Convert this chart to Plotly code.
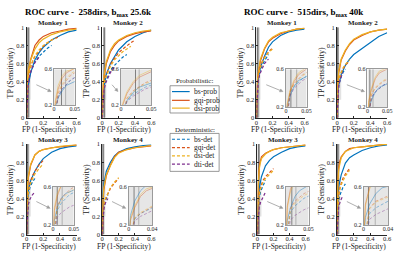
import math
import plotly.graph_objects as go

# ---------------- data ----------------
FP_PROB = [0, 0.003, 0.01, 0.02, 0.03, 0.05, 0.1, 0.15, 0.2, 0.3, 0.4, 0.5, 0.6]
FP_DET = [0, 0.01, 0.02, 0.04, 0.07, 0.1, 0.15, 0.2, 0.25, 0.3, 0.35, 0.4]

# 258 dirs, bmax 25.6k
BS_PROB_258_M1 = [0, 0.18, 0.28, 0.36, 0.42, 0.5, 0.64, 0.72, 0.78, 0.86, 0.91, 0.95, 0.97]
GQI_PROB_258_M1 = [0, 0.22, 0.38, 0.5, 0.56, 0.65, 0.8, 0.86, 0.9, 0.94, 0.96, 0.98, 0.99]
DSI_PROB_258_M1 = [0, 0.25, 0.42, 0.53, 0.58, 0.64, 0.76, 0.83, 0.87, 0.92, 0.95, 0.97, 0.98]
BS_DET_258_M1 = [0, 0.3, 0.38, 0.48, 0.56, 0.62, 0.68, 0.73, 0.77, 0.8]
GQI_DET_258_M1 = [0, 0.33, 0.42, 0.53, 0.62, 0.68, 0.74, 0.79, 0.83, 0.86, 0.88, 0.9]
DSI_DET_258_M1 = [0, 0.35, 0.44, 0.55, 0.63, 0.69, 0.75, 0.8, 0.83, 0.86, 0.88]
DTI_DET_258_M1 = [0, 0.3, 0.38, 0.48, 0.56, 0.61, 0.67]

BS_PROB_258_M2 = [0, 0.15, 0.25, 0.34, 0.4, 0.48, 0.6, 0.68, 0.75, 0.84, 0.9, 0.94, 0.97]
GQI_PROB_258_M2 = [0, 0.2, 0.33, 0.44, 0.51, 0.6, 0.73, 0.8, 0.85, 0.9, 0.93, 0.95, 0.96]
DSI_PROB_258_M2 = [0, 0.22, 0.35, 0.46, 0.53, 0.62, 0.75, 0.82, 0.86, 0.91, 0.94, 0.96, 0.97]
BS_DET_258_M2 = [0, 0.25, 0.32, 0.4, 0.47, 0.52, 0.58, 0.63, 0.67, 0.7]
GQI_DET_258_M2 = [0, 0.28, 0.36, 0.45, 0.53, 0.59, 0.66, 0.72, 0.76, 0.8, 0.83, 0.86]
DSI_DET_258_M2 = [0, 0.27, 0.35, 0.44, 0.51, 0.57, 0.64, 0.69, 0.73, 0.76, 0.79]
DTI_DET_258_M2 = [0, 0.24, 0.3, 0.38, 0.45, 0.5, 0.56]

BS_PROB_258_M3 = [0, 0.25, 0.38, 0.48, 0.53, 0.6, 0.7, 0.78, 0.84, 0.91, 0.95, 0.97, 0.98]
GQI_PROB_258_M3 = [0, 0.35, 0.5, 0.62, 0.68, 0.77, 0.88, 0.92, 0.94, 0.96, 0.97, 0.98, 0.99]
DSI_PROB_258_M3 = [0, 0.38, 0.53, 0.64, 0.7, 0.78, 0.88, 0.92, 0.94, 0.96, 0.975, 0.985, 0.99]
BS_DET_258_M3 = [0, 0.35, 0.43, 0.52, 0.58, 0.62]
GQI_DET_258_M3 = [0, 0.4, 0.48, 0.57, 0.65, 0.7, 0.77, 0.82]
DSI_DET_258_M3 = [0, 0.38, 0.46, 0.55, 0.62, 0.67, 0.73, 0.78]
DTI_DET_258_M3 = [0, 0.28, 0.33, 0.39, 0.44, 0.47]

BS_PROB_258_M4 = [0, 0.3, 0.45, 0.56, 0.62, 0.7, 0.8, 0.87, 0.91, 0.95, 0.97, 0.985, 0.99]
GQI_PROB_258_M4 = [0, 0.25, 0.38, 0.5, 0.56, 0.65, 0.77, 0.86, 0.91, 0.94, 0.96, 0.97, 0.98]
DSI_PROB_258_M4 = [0, 0.27, 0.4, 0.52, 0.58, 0.66, 0.76, 0.85, 0.9, 0.94, 0.96, 0.975, 0.985]
BS_DET_258_M4 = [0, 0.26, 0.32, 0.38, 0.44]
GQI_DET_258_M4 = [0, 0.27, 0.32, 0.39, 0.46, 0.51, 0.57, 0.62]
DSI_DET_258_M4 = [0, 0.28, 0.33, 0.4, 0.47, 0.52, 0.58, 0.63]
DTI_DET_258_M4 = [0, 0.24, 0.29, 0.35, 0.4]

# 515 dirs, bmax 40k
BS_PROB_515_M1 = [0, 0.2, 0.32, 0.42, 0.48, 0.56, 0.68, 0.78, 0.84, 0.91, 0.95, 0.97, 0.98]
GQI_PROB_515_M1 = [0, 0.22, 0.36, 0.47, 0.54, 0.63, 0.76, 0.84, 0.88, 0.93, 0.96, 0.98, 0.99]
DSI_PROB_515_M1 = [0, 0.24, 0.38, 0.49, 0.56, 0.65, 0.77, 0.85, 0.89, 0.94, 0.96, 0.98, 0.99]
BS_DET_515_M1 = [0, 0.35, 0.42, 0.5, 0.58, 0.63, 0.7]
GQI_DET_515_M1 = [0, 0.37, 0.45, 0.54, 0.62, 0.67, 0.73, 0.77]
DSI_DET_515_M1 = [0, 0.36, 0.44, 0.53, 0.61, 0.66, 0.72, 0.76]
DTI_DET_515_M1 = [0, 0.32, 0.4, 0.48, 0.55, 0.6, 0.65]

BS_PROB_515_M2 = [0, 0.18, 0.27, 0.36, 0.41, 0.48, 0.58, 0.65, 0.7, 0.77, 0.84, 0.9, 0.94]
GQI_PROB_515_M2 = [0, 0.25, 0.38, 0.5, 0.56, 0.64, 0.74, 0.81, 0.86, 0.91, 0.95, 0.97, 0.98]
DSI_PROB_515_M2 = [0, 0.27, 0.4, 0.52, 0.58, 0.65, 0.75, 0.82, 0.87, 0.92, 0.95, 0.97, 0.98]
BS_DET_515_M2 = [0, 0.3, 0.36, 0.43, 0.5, 0.54]
GQI_DET_515_M2 = [0, 0.33, 0.4, 0.47, 0.54, 0.58, 0.63]
DSI_DET_515_M2 = [0, 0.34, 0.41, 0.48, 0.55, 0.59, 0.64]
DTI_DET_515_M2 = [0, 0.3, 0.36, 0.43, 0.5]

BS_PROB_515_M3 = [0, 0.25, 0.38, 0.5, 0.56, 0.64, 0.76, 0.82, 0.86, 0.91, 0.95, 0.97, 0.98]
GQI_PROB_515_M3 = [0, 0.4, 0.58, 0.72, 0.79, 0.86, 0.9, 0.92, 0.94, 0.96, 0.97, 0.98, 0.99]
DSI_PROB_515_M3 = [0, 0.38, 0.55, 0.7, 0.77, 0.84, 0.89, 0.92, 0.94, 0.96, 0.97, 0.98, 0.99]
BS_DET_515_M3 = [0, 0.33, 0.4, 0.48, 0.55, 0.6]
GQI_DET_515_M3 = [0, 0.38, 0.45, 0.53, 0.6, 0.64, 0.69, 0.73]
DSI_DET_515_M3 = [0, 0.36, 0.43, 0.51, 0.58, 0.62, 0.67, 0.71]
DTI_DET_515_M3 = [0, 0.25, 0.3, 0.36, 0.42, 0.47]

BS_PROB_515_M4 = [0, 0.28, 0.42, 0.53, 0.59, 0.66, 0.79, 0.85, 0.88, 0.93, 0.96, 0.98, 0.99]
GQI_PROB_515_M4 = [0, 0.42, 0.6, 0.74, 0.8, 0.86, 0.92, 0.95, 0.96, 0.97, 0.98, 0.99, 1.0]
DSI_PROB_515_M4 = [0, 0.4, 0.58, 0.72, 0.78, 0.85, 0.92, 0.94, 0.96, 0.97, 0.98, 0.99, 1.0]
BS_DET_515_M4 = [0, 0.32, 0.38, 0.45, 0.52, 0.56]
GQI_DET_515_M4 = [0, 0.38, 0.45, 0.54, 0.62, 0.67, 0.73]
DSI_DET_515_M4 = [0, 0.37, 0.44, 0.53, 0.6, 0.65, 0.71]
DTI_DET_515_M4 = [0, 0.26, 0.31, 0.37, 0.43]

# threshold FP values (dark, light) per panel
VLINES_258 = [(0.018, 0.028), (0.024, 0.03), (0.01, 0.022), (0.009, 0.017)]
VLINES_515 = [(0.012, 0.026), (0.006, 0.014), (0.013, 0.022), (0.008, 0.019)]

ZOOM_X_MAX = [0.05, 0.05, 0.05, 0.04, 0.05, 0.05, 0.05, 0.04]
ZOOM_Y = [0.2, 0.6]

PANEL_TITLES = ["Monkey 1", "Monkey 2", "Monkey 3", "Monkey 4"] * 2
GROUP_TITLES = ["<b>ROC curve -  258dirs, b<sub>max</sub> 25.6k</b>",
                "<b>ROC curve -  515dirs, b<sub>max</sub> 40k</b>"]

SERIES_NAMES = ["bs-prob", "gqi-prob", "dsi-prob", "bs-det", "gqi-det", "dsi-det", "dti-det"]
COLORS = ["#0072BD", "#D95319", "#EDB120", "#0072BD", "#D95319", "#EDB120", "#7E2F8E"]

PANEL_DATA = [
    [BS_PROB_258_M1, GQI_PROB_258_M1, DSI_PROB_258_M1, BS_DET_258_M1, GQI_DET_258_M1, DSI_DET_258_M1, DTI_DET_258_M1],
    [BS_PROB_258_M2, GQI_PROB_258_M2, DSI_PROB_258_M2, BS_DET_258_M2, GQI_DET_258_M2, DSI_DET_258_M2, DTI_DET_258_M2],
    [BS_PROB_258_M3, GQI_PROB_258_M3, DSI_PROB_258_M3, BS_DET_258_M3, GQI_DET_258_M3, DSI_DET_258_M3, DTI_DET_258_M3],
    [BS_PROB_258_M4, GQI_PROB_258_M4, DSI_PROB_258_M4, BS_DET_258_M4, GQI_DET_258_M4, DSI_DET_258_M4, DTI_DET_258_M4],
    [BS_PROB_515_M1, GQI_PROB_515_M1, DSI_PROB_515_M1, BS_DET_515_M1, GQI_DET_515_M1, DSI_DET_515_M1, DTI_DET_515_M1],
    [BS_PROB_515_M2, GQI_PROB_515_M2, DSI_PROB_515_M2, BS_DET_515_M2, GQI_DET_515_M2, DSI_DET_515_M2, DTI_DET_515_M2],
    [BS_PROB_515_M3, GQI_PROB_515_M3, DSI_PROB_515_M3, BS_DET_515_M3, GQI_DET_515_M3, DSI_DET_515_M3, DTI_DET_515_M3],
    [BS_PROB_515_M4, GQI_PROB_515_M4, DSI_PROB_515_M4, BS_DET_515_M4, GQI_DET_515_M4, DSI_DET_515_M4, DTI_DET_515_M4],
]
VLINES = VLINES_258 + VLINES_515

# ---------------- layout geometry (pixels) ----------------
W, H = 400, 260
# main: x0, x1, ytop, ybot ; inset: l, r, t, b
GEOM = [
    ((25, 76, 24, 117), (53, 74, 67, 104)),
    ((102, 152, 24, 117), (121, 152, 67, 104)),
    ((25, 76, 144, 237), (52, 73, 188, 227)),
    ((102, 152, 144, 237), (129, 153, 188, 227)),
    ((259, 308, 24, 117), (289, 310, 67, 106)),
    ((341, 392, 24, 117), (372, 392, 67, 106)),
    ((260, 309, 144, 237), (289, 312, 188, 227)),
    ((341, 392, 144, 237), (368, 393, 188, 227)),
]

FONT = "Liberation Serif"
TXT = "#222222"
ARROW = "#9a9a9a"


def px(x):
    return x / W


def py(y):
    return 1 - y / H


def label(x, y, text, size, **kw):
    d = dict(xref="paper", yref="paper", x=px(x), y=py(y), text=text, showarrow=False,
             xanchor=kw.pop("xanchor", "center"), yanchor="middle",
             font=dict(size=size, family=FONT, color=kw.pop("color", TXT)))
    d.update(kw)
    return d


fig = go.Figure()
layout = dict(
    width=W, height=H, margin=dict(l=0, r=0, t=0, b=0),
    paper_bgcolor="white", plot_bgcolor="white", showlegend=False,
    font=dict(family=FONT, color=TXT, size=7),
)
shapes = []
annotations = []

for i in range(8):
    (x0, x1, yt, yb), (il, ir, it, ib) = GEOM[i]
    m = i + 1
    n = i + 9
    mx, my = f"x{m}", f"y{m}"
    nx, ny = f"x{n}", f"y{n}"
    xmax = ZOOM_X_MAX[i]
    kx = "xaxis" if m == 1 else f"xaxis{m}"
    ky = "yaxis" if m == 1 else f"yaxis{m}"
    layout[kx] = dict(domain=[px(x0), px(x1)], anchor=my, range=[0, 0.6],
                      tickvals=[0, 0.2, 0.4, 0.6], ticktext=["0", "0.2", "0.4", "0.6"],
                      showline=True, linecolor="#262626", linewidth=0.8, ticks="inside",
                      ticklen=2, tickcolor="#262626", showgrid=False, zeroline=False,
                      ticklabelstandoff=-2,
                      tickfont=dict(size=6.5, family=FONT, color=TXT))
    layout[ky] = dict(domain=[py(yb), py(yt)], anchor=mx, range=[0, 1],
                      tickvals=[0, 0.2, 0.4, 0.6, 0.8, 1],
                      ticktext=["0", "0.2", "0.4", "0.6", "0.8", "1"],
                      showline=True, linecolor="#262626", linewidth=0.8, ticks="inside",
                      ticklen=2, tickcolor="#262626", showgrid=False, zeroline=False,
                      tickfont=dict(size=6.5, family=FONT, color=TXT))
    layout[f"xaxis{n}"] = dict(domain=[px(il), px(ir)], anchor=ny, range=[0, xmax],
                               tickvals=[0, xmax], ticktext=["0", f"{xmax:g}"],
                               showline=True, mirror=True, linecolor="#9a9a9a", linewidth=0.8,
                               ticks="", showgrid=False, zeroline=False,
                               ticklabelstandoff=-2,
                               tickfont=dict(size=6, family=FONT, color=TXT))
    layout[f"yaxis{n}"] = dict(domain=[py(ib), py(it)], anchor=nx, range=ZOOM_Y,
                               tickvals=ZOOM_Y, ticktext=["0.2", "0.6"],
                               showline=True, mirror=True, linecolor="#9a9a9a", linewidth=0.8,
                               ticks="", showgrid=False, zeroline=False,
                               tickfont=dict(size=6, family=FONT, color=TXT))

    # zoom region in main axes
    shapes.append(dict(type="rect", xref=mx, yref=my, x0=0, x1=xmax, y0=ZOOM_Y[0], y1=ZOOM_Y[1],
                       fillcolor="#e2e2e2", line=dict(width=0), layer="below"))
    dark, light = VLINES[i]
    shapes.append(dict(type="line", xref=mx, yref=my, x0=light, x1=light, y0=0, y1=1,
                       line=dict(color="#b4b4b4", width=1.6), layer="below"))
    shapes.append(dict(type="line", xref=mx, yref=my, x0=dark, x1=dark, y0=0, y1=1,
                       line=dict(color="#7a7a7a", width=1.6), layer="below"))
    # inset background and threshold lines
    shapes.append(dict(type="rect", xref=nx, yref=ny, x0=0, x1=xmax, y0=ZOOM_Y[0], y1=ZOOM_Y[1],
                       fillcolor="#e6e6e6", line=dict(width=0), layer="below"))
    shapes.append(dict(type="line", xref=nx, yref=ny, x0=dark, x1=dark, y0=ZOOM_Y[0], y1=ZOOM_Y[1],
                       line=dict(color="#808080", width=1), layer="below"))
    shapes.append(dict(type="line", xref=nx, yref=ny, x0=light, x1=light, y0=ZOOM_Y[0], y1=ZOOM_Y[1],
                       line=dict(color="#b0b0b0", width=1), layer="below"))

    # curves
    for k, ys in enumerate(PANEL_DATA[i]):
        xs = FP_PROB if k < 3 else FP_DET[:len(ys)]
        dash = "solid" if k < 3 else "3px,2px"
        fig.add_trace(go.Scatter(x=xs, y=ys, mode="lines", xaxis=mx, yaxis=my,
                                 name=SERIES_NAMES[k],
                                 line=dict(color=COLORS[k], width=1.2, dash=dash)))
    for k, ys in enumerate(PANEL_DATA[i]):
        xs = FP_PROB if k < 3 else FP_DET[:len(ys)]
        dash = "solid" if k < 3 else "3px,2px"
        fig.add_trace(go.Scatter(x=xs, y=ys, mode="lines", xaxis=nx, yaxis=ny,
                                 name=SERIES_NAMES[k], opacity=0.45,
                                 line=dict(color=COLORS[k], width=0.9, dash=dash)))

    # arrow from zoom region to inset (line + head)
    tx, ty = x0 + 10, yt + 59
    hx, hy = il - 3, yt + 66
    dx, dy = hx - tx, hy - ty
    L = math.hypot(dx, dy)
    ux, uy = dx / L, dy / L
    bx, by = hx - 3.2 * ux, hy - 3.2 * uy
    shapes.append(dict(type="line", xref="paper", yref="paper", x0=px(tx), y0=py(ty),
                       x1=px(bx), y1=py(by), line=dict(color=ARROW, width=0.8)))
    p1 = (bx - 1.6 * uy, by + 1.6 * ux)
    p2 = (bx + 1.6 * uy, by - 1.6 * ux)
    shapes.append(dict(type="path", xref="paper", yref="paper",
                       path=f"M {px(hx)} {py(hy)} L {px(p1[0])} {py(p1[1])} "
                            f"L {px(p2[0])} {py(p2[1])} Z",
                       fillcolor=ARROW, line=dict(color=ARROW, width=0.5)))
    # texts
    cx = (x0 + x1) / 2
    annotations.append(label(cx + 1, yt - 4, f"<b>{PANEL_TITLES[i]}</b>", 7))
    annotations.append(label(cx - 3, yb + 12, "FP (1-Specificity)", 7.5))
    annotations.append(label(x0 - 16, (yt + yb) / 2, "TP (Sensitivity)", 8, textangle=-90))

# group titles
annotations.append(label(88, 9, GROUP_TITLES[0], 9, color="black"))
annotations.append(label(307, 9, GROUP_TITLES[1], 9, color="black"))

# legends (drawn manually)
LEG_PROB_Y = [90, 99, 107]
LEG_DET_Y = [139, 147.5, 156, 164.5]
annotations.append(label(196, 79, "Probabilistic:", 7))
shapes.append(dict(type="rect", xref="paper", yref="paper", x0=px(171), x1=px(221),
                   y0=py(112), y1=py(84), line=dict(color="#7f7f7f", width=0.8),
                   fillcolor="white"))
annotations.append(label(196, 129, "Deterministic:", 7))
shapes.append(dict(type="rect", xref="paper", yref="paper", x0=px(171), x1=px(221),
                   y0=py(172), y1=py(133), line=dict(color="#7f7f7f", width=0.8),
                   fillcolor="white"))
for k in range(7):
    yy = LEG_PROB_Y[k] if k < 3 else LEG_DET_Y[k - 3]
    shapes.append(dict(type="line", xref="paper", yref="paper", x0=px(173), x1=px(191),
                       y0=py(yy), y1=py(yy),
                       line=dict(color=COLORS[k], width=1.2,
                                 dash="solid" if k < 3 else "3px,2px")))
    annotations.append(label(193, yy, SERIES_NAMES[k], 7.5, xanchor="left"))

layout["shapes"] = shapes
layout["annotations"] = annotations
fig.update_layout(**layout)
fig.write_html("out.html", config={"displayModeBar": False},
               post_script="document.body.style.margin='0px';")
